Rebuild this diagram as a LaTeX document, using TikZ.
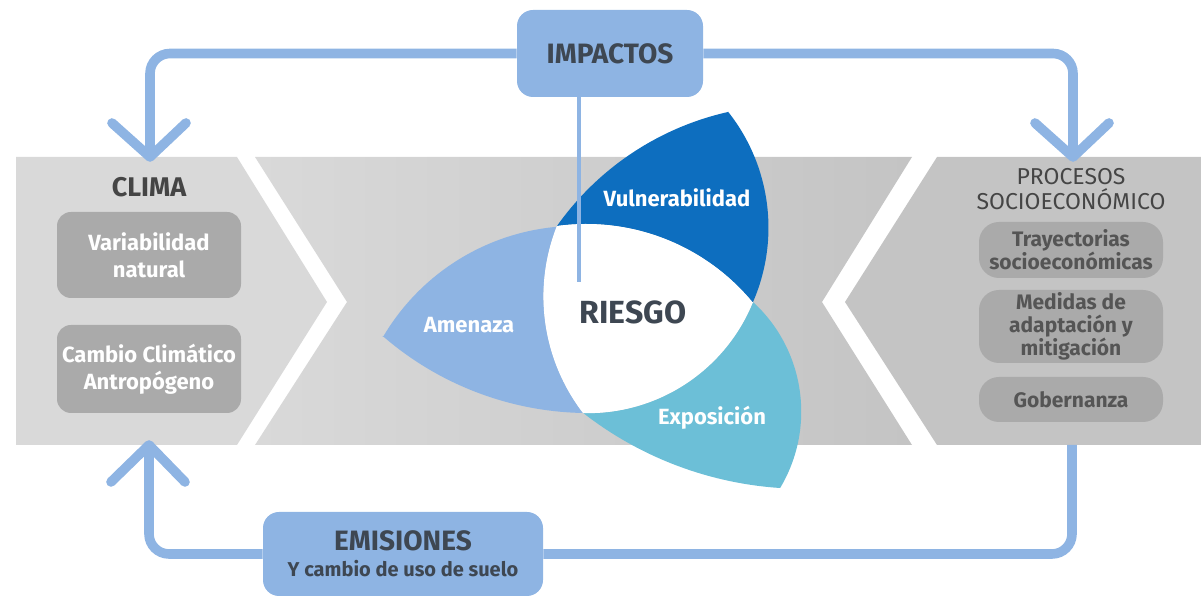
\documentclass[tikz,border=0pt]{standalone}
\usepackage{fontspec}
\setmainfont{Fira Sans}
\definecolor{lb}{HTML}{8EB4E3}
\definecolor{vb}{HTML}{0D6EBF}
\definecolor{eb}{HTML}{6CBFD7}
\definecolor{dt}{HTML}{3E4752}
\definecolor{ttl}{HTML}{454545}
\definecolor{gA}{HTML}{D9D9D9}
\definecolor{gB}{HTML}{C4C4C4}
\definecolor{gbox}{HTML}{AAAAAA}
\definecolor{gt}{HTML}{555555}
\tikzset{
  ibox/.style={fill=lb, rounded corners=8pt, text=dt, align=center, inner sep=0pt,
    font=\bfseries\fontsize{14}{16}\selectfont},
  conn/.style={draw=lb, line width=4.8pt, rounded corners=10pt},
  head/.style={draw=lb, line width=4.8pt, line cap=round, line join=round},
  lgbox/.style={fill=gbox, rounded corners=7pt, minimum width=92pt, text=white, align=center,
    inner sep=0pt, font=\bfseries\fontsize{11}{13.5}\selectfont},
  rgbox/.style={fill=gbox, rounded corners=10pt, minimum width=92pt, text=gt, align=center,
    inner sep=0pt, font=\bfseries\fontsize{10.5}{11.6}\selectfont},
  plabel/.style={text=white, font=\bfseries\fontsize{11}{13}\selectfont},
  ttlstyle/.style={text=ttl, align=center, font=\bfseries\fontsize{13.5}{15}\selectfont},
  subttl/.style={text=ttl, align=center, font=\fontsize{11.5}{12.5}\selectfont},
}
\begin{document}
\begin{tikzpicture}[x=0.5pt,y=-0.5pt]
\useasboundingbox (0,0) rectangle (1201,597);

% grey band
\fill[gA] (16,157) -- (237,157) -- (327,302) -- (237,445) -- (16,445) -- cycle;
\shade[left color=gA, right color=gB] (255,157) -- (912,157) -- (822,302) -- (912,445) -- (255,445) -- (347,302) -- cycle;
\fill[gB] (937,157) -- (1201,157) -- (1201,445) -- (937,445) -- (845,302) -- cycle;

% petals
\fill[vb] (728,112) arc[start angle=257.3, end angle=215.35, radius=287]
  -- (557,226) arc[start angle=262.2, end angle=320.6, radius=215.8]
  -- (753,302) arc[start angle=23.5, end angle=-38.5, radius=186.5] -- cycle;
\fill[lb] (383,337) arc[start angle=210.4, end angle=264.9, radius=224.9]
  -- (557,226) arc[start angle=201.6, end angle=142.5, radius=191.4]
  -- (583,413) arc[start angle=91.1, end angle=131.0, radius=314.7] -- cycle;
\fill[eb] (753,302) arc[start angle=-47.5, end angle=30.9, radius=148.7]
  -- (780,488) arc[start angle=93.8, end angle=127.9, radius=358.8]
  -- (583,413) arc[start angle=91.6, end angle=22.1, radius=178.2] -- cycle;
\fill[white] (557,226) arc[start angle=262.2, end angle=320.6, radius=215.8]
  -- (753,302) arc[start angle=22.1, end angle=91.6, radius=178.2]
  -- (583,413) arc[start angle=142.5, end angle=201.6, radius=191.4] -- cycle;

\node[plabel] (vul) at (677,198) {Vulnerabilidad};
\node[plabel] (ame) at (469,325) {Amenaza};
\node[plabel] (exp) at (712,418) {Exposición};
\node[text=dt, font=\bfseries\fontsize{16}{18}\selectfont] (ries) at (633,312) {RIESGO};

% boxes
\node[ibox, minimum width=93pt, minimum height=43.5pt] (imp) at (610,53.5) {IMPACTOS};
\node[ibox, minimum width=140pt, minimum height=42pt] (emi) at (403,554)
  {EMISIONES\\[-3pt]{\fontsize{10}{12}\selectfont Y cambio de uso de suelo}};

\node[ttlstyle] (clima) at (149,187) {CLIMA};
\node[lgbox, minimum height=43pt] (var) at (149,255) {Variabilidad\\natural};
\node[lgbox, minimum height=44pt] (cc) at (149,369) {Cambio Climático\\Antropógeno};

\node[subttl] (proc) at (1071,189.5) {PROCESOS\\SOCIOECONÓMICO};
\node[rgbox, minimum height=28pt] (tray) at (1071,250) {Trayectorias\\socioeconómicas};
\node[rgbox, minimum height=36.5pt] (med) at (1071,326.5) {Medidas de\\adaptación y\\mitigación};
\node[rgbox, minimum height=22.5pt] (gob) at (1071,399.5) {Gobernanza};

% connectors
\coordinate (ctop) at (150,157);
\coordinate (ptop) at (1073,157);
\coordinate (cbot) at (149,445);
\coordinate (pbot) at (1072,445);
\coordinate (rtop) at (579,282);
\draw[conn] (imp.west) -| (ctop);
\draw[conn] (imp.east) -| (ptop);
\draw[conn] (emi.west) -| (cbot);
\draw[conn] (emi.east) -| (pbot);
\draw[lb, line width=2pt] (imp.south -| rtop) -- (rtop);

\draw[head] (112,123) -- (ctop) -- (186,123);
\draw[head] (1035,123) -- (ptop) -- (1109,123);
\draw[head] (111,482) -- (cbot) -- (185,482);
\end{tikzpicture}
\end{document}
